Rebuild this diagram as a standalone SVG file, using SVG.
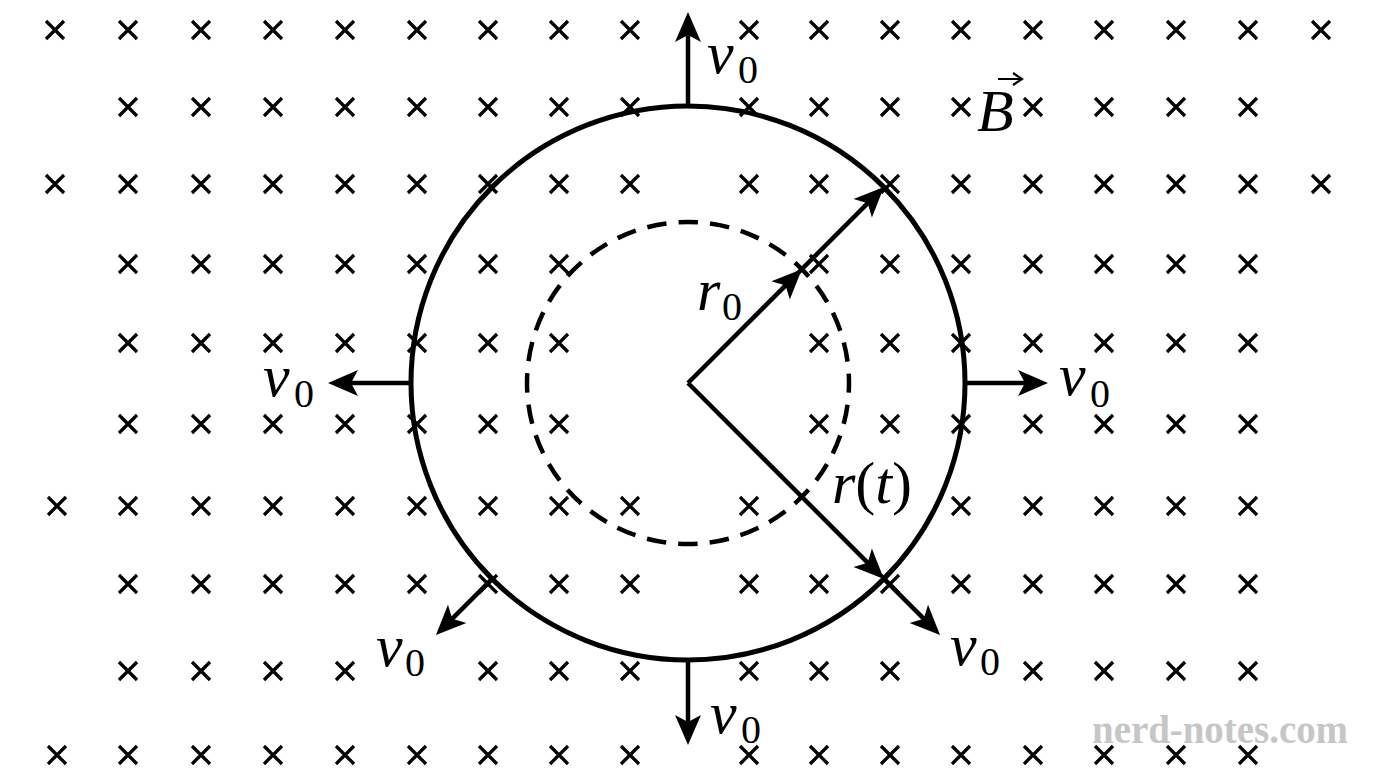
<svg xmlns="http://www.w3.org/2000/svg" xmlns:xlink="http://www.w3.org/1999/xlink" width="1376" height="768" viewBox="0 0 1376 768">
<style>
.x{stroke:#000;stroke-width:3.3;fill:none;stroke-linecap:butt}
.ring{fill:none;stroke:#000;stroke-width:5}
.dash{fill:none;stroke:#000;stroke-width:4.5;stroke-dasharray:19.5 12.11;stroke-dashoffset:9.75}
.arr{fill:none;stroke:#000;stroke-width:4.5;marker-end:url(#head)}
.m{font-family:"Liberation Serif","Times New Roman",serif;font-style:italic;font-size:60px;fill:#000}
.u{font-style:normal}
.s{font-family:"Liberation Serif","Times New Roman",serif;font-style:normal;font-size:40px;fill:#000}
.wm{font-family:"Liberation Serif","Times New Roman",serif;font-weight:bold;font-size:40px;fill:#c6c6c6}
</style>
<defs>
<path id="x" class="x" d="M-9,-9 L9,9 M-9,9 L9,-9"/>
<marker id="head" markerUnits="userSpaceOnUse" viewBox="-32 -14 34 28" markerWidth="34" markerHeight="28" refX="-20" refY="0" orient="auto" overflow="visible">
<path d="M0,0 L-30,-13 L-23,0 L-30,13 Z" fill="#000"/>
</marker>
</defs>
<rect width="1376" height="768" fill="#fff"/>
<g id="field">
<use href="#x" x="55" y="30"/><use href="#x" x="128" y="30"/><use href="#x" x="201" y="30"/><use href="#x" x="273" y="30"/><use href="#x" x="345" y="30"/><use href="#x" x="417" y="30"/><use href="#x" x="488" y="30"/><use href="#x" x="559" y="30"/><use href="#x" x="630" y="30"/>
<use href="#x" x="749" y="30"/><use href="#x" x="819" y="30"/><use href="#x" x="890" y="30"/><use href="#x" x="961" y="30"/><use href="#x" x="1033" y="30"/><use href="#x" x="1104" y="30"/><use href="#x" x="1176" y="30"/><use href="#x" x="1248" y="30"/><use href="#x" x="1321" y="30"/>
<use href="#x" x="128" y="107"/><use href="#x" x="201" y="107"/><use href="#x" x="273" y="107"/><use href="#x" x="345" y="107"/><use href="#x" x="417" y="107"/><use href="#x" x="488" y="107"/><use href="#x" x="559" y="107"/><use href="#x" x="630" y="107"/>
<use href="#x" x="749" y="107"/><use href="#x" x="819" y="107"/><use href="#x" x="890" y="107"/><use href="#x" x="961" y="107"/><use href="#x" x="1033" y="107"/><use href="#x" x="1104" y="107"/><use href="#x" x="1176" y="107"/><use href="#x" x="1248" y="107"/>
<use href="#x" x="55" y="184"/><use href="#x" x="128" y="184"/><use href="#x" x="201" y="184"/><use href="#x" x="273" y="184"/><use href="#x" x="345" y="184"/><use href="#x" x="417" y="184"/><use href="#x" x="488" y="184"/><use href="#x" x="559" y="184"/><use href="#x" x="630" y="184"/>
<use href="#x" x="749" y="184"/><use href="#x" x="819" y="184"/><use href="#x" x="890" y="184"/><use href="#x" x="961" y="184"/><use href="#x" x="1033" y="184"/><use href="#x" x="1104" y="184"/><use href="#x" x="1176" y="184"/><use href="#x" x="1248" y="184"/><use href="#x" x="1321" y="184"/>
<use href="#x" x="128" y="264"/><use href="#x" x="201" y="264"/><use href="#x" x="273" y="264"/><use href="#x" x="345" y="264"/><use href="#x" x="417" y="264"/><use href="#x" x="488" y="264"/><use href="#x" x="559" y="264"/>
<use href="#x" x="819" y="264"/><use href="#x" x="890" y="264"/><use href="#x" x="961" y="264"/><use href="#x" x="1033" y="264"/><use href="#x" x="1104" y="264"/><use href="#x" x="1176" y="264"/><use href="#x" x="1248" y="264"/>
<use href="#x" x="128" y="343"/><use href="#x" x="201" y="343"/><use href="#x" x="273" y="343"/><use href="#x" x="345" y="343"/><use href="#x" x="417" y="343"/><use href="#x" x="488" y="343"/><use href="#x" x="559" y="343"/>
<use href="#x" x="819" y="343"/><use href="#x" x="890" y="343"/><use href="#x" x="961" y="343"/><use href="#x" x="1033" y="343"/><use href="#x" x="1104" y="343"/><use href="#x" x="1176" y="343"/><use href="#x" x="1248" y="343"/>
<use href="#x" x="128" y="424"/><use href="#x" x="201" y="424"/><use href="#x" x="273" y="424"/><use href="#x" x="345" y="424"/><use href="#x" x="417" y="424"/><use href="#x" x="488" y="424"/><use href="#x" x="559" y="424"/>
<use href="#x" x="819" y="424"/><use href="#x" x="890" y="424"/><use href="#x" x="961" y="424"/><use href="#x" x="1033" y="424"/><use href="#x" x="1104" y="424"/><use href="#x" x="1176" y="424"/><use href="#x" x="1248" y="424"/>
<use href="#x" x="57" y="506"/><use href="#x" x="128" y="506"/><use href="#x" x="201" y="506"/><use href="#x" x="273" y="506"/><use href="#x" x="345" y="506"/><use href="#x" x="417" y="506"/><use href="#x" x="488" y="506"/><use href="#x" x="559" y="506"/><use href="#x" x="630" y="506"/>
<use href="#x" x="749" y="506"/><use href="#x" x="961" y="506"/><use href="#x" x="1033" y="506"/><use href="#x" x="1104" y="506"/><use href="#x" x="1176" y="506"/><use href="#x" x="1248" y="506"/>
<use href="#x" x="128" y="584"/><use href="#x" x="201" y="584"/><use href="#x" x="273" y="584"/><use href="#x" x="345" y="584"/><use href="#x" x="417" y="584"/><use href="#x" x="488" y="584"/><use href="#x" x="559" y="584"/><use href="#x" x="630" y="584"/>
<use href="#x" x="749" y="584"/><use href="#x" x="819" y="584"/><use href="#x" x="890" y="584"/><use href="#x" x="961" y="584"/><use href="#x" x="1033" y="584"/><use href="#x" x="1104" y="584"/><use href="#x" x="1176" y="584"/><use href="#x" x="1248" y="584"/>
<use href="#x" x="128" y="671"/><use href="#x" x="201" y="671"/><use href="#x" x="273" y="671"/><use href="#x" x="345" y="671"/><use href="#x" x="488" y="671"/><use href="#x" x="559" y="671"/><use href="#x" x="630" y="671"/>
<use href="#x" x="749" y="671"/><use href="#x" x="819" y="671"/><use href="#x" x="890" y="671"/><use href="#x" x="1033" y="671"/><use href="#x" x="1104" y="671"/><use href="#x" x="1176" y="671"/><use href="#x" x="1248" y="671"/>
<use href="#x" x="57" y="755"/><use href="#x" x="128" y="755"/><use href="#x" x="201" y="755"/><use href="#x" x="273" y="755"/><use href="#x" x="345" y="755"/><use href="#x" x="417" y="755"/><use href="#x" x="488" y="755"/><use href="#x" x="559" y="755"/><use href="#x" x="630" y="755"/>
<use href="#x" x="749" y="755"/><use href="#x" x="819" y="755"/><use href="#x" x="890" y="755"/><use href="#x" x="961" y="755"/><use href="#x" x="1033" y="755"/><use href="#x" x="1104" y="755"/><use href="#x" x="1176" y="755"/><use href="#x" x="1248" y="755"/>
</g>
<g id="boundary"><circle class="ring" cx="688" cy="383" r="277"/></g>
<g id="initial"><circle class="dash" cx="688" cy="383" r="161"/></g>
<g id="connectors">
<path class="arr" d="M688,106 L688,32"/>
<path class="arr" d="M965,383 L1028,383"/>
<path class="arr" d="M411,383 L348,383"/>
<path class="arr" d="M688,660 L688,725"/>
<path class="arr" d="M492.1,578.9 L450.1,620.9"/>
<path class="arr" d="M883.9,578.9 L925.9,620.9"/>
<path class="arr" d="M688,383 L787.7,283.3"/>
<path class="arr" d="M786,285 L869.8,201.2"/>
<path class="arr" d="M688,383 L869.8,564.8"/>
</g>
<g id="labels">
<text class="m" x="707" y="73">v<tspan class="s" x="738" y="83">0</tspan></text>
<text class="m" x="1059" y="395">v<tspan class="s" x="1090" y="407">0</tspan></text>
<text class="m" x="263" y="396">v<tspan class="s" x="294" y="407">0</tspan></text>
<text class="m" x="376" y="666">v<tspan class="s" x="405" y="676">0</tspan></text>
<text class="m" x="950" y="665">v<tspan class="s" x="980" y="675">0</tspan></text>
<text class="m" x="710" y="733">v<tspan class="s" x="741" y="743">0</tspan></text>
<text class="m" x="697" y="310">r<tspan class="s" x="722" y="320">0</tspan></text>
<text class="m" x="832" y="503">r<tspan class="u">(</tspan>t<tspan class="u">)</tspan></text>
<g id="B-label">
<text class="m" x="977" y="131">B</text>
<path d="M998,79 L1020,79 M1013,73 L1022,79 L1013,85" fill="none" stroke="#000" stroke-width="2.2"/>
</g>
</g>
<text class="wm" x="1092" y="743" textLength="256" lengthAdjust="spacingAndGlyphs">nerd-notes.com</text>
</svg>
